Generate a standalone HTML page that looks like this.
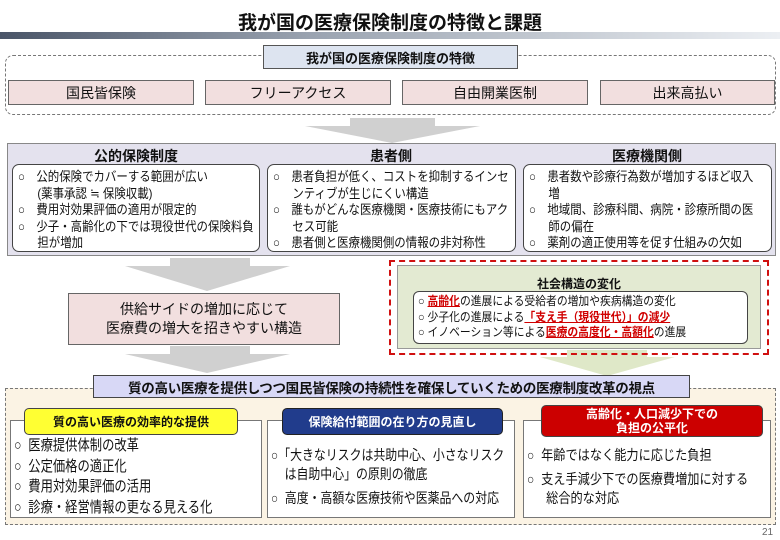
<!DOCTYPE html>
<html><head><meta charset="utf-8"><style>
*{margin:0;padding:0;box-sizing:border-box}
body{width:780px;height:540px;background:#fff;position:relative;overflow:hidden;font-family:"Liberation Sans","Noto Sans CJK JP",sans-serif;color:#111}
.a{position:absolute}
.c{display:flex;align-items:center;justify-content:center;text-align:center}
.pink{background:#f2dfdf;border:1px solid #666;font-size:14px}
.wb{background:#fff;border:1px solid #444;border-radius:7px}
.sx{transform:scaleX(0.88);transform-origin:0 0;font-size:13px;line-height:16.5px}
.li{padding-left:22px;text-indent:-22px}
.b{font-weight:bold}
.r{color:#d00000;font-weight:bold;text-decoration:underline}
</style></head><body>
<div class="a b" style="left:0;top:8px;width:780px;text-align:center;font-size:19px">我が国の医療保険制度の特徴と課題</div>
<div class="a" style="left:0;top:32px;width:780px;height:7px;background:linear-gradient(90deg,#4a5568,#9aa3b0 40%,#eceff3)"></div>

<div class="a" style="left:5px;top:55px;width:771px;height:60px;border:1px dashed #777;border-radius:8px"></div>
<div class="a c b" style="left:263px;top:45px;width:255px;height:24px;background:#dde4f0;border:1px solid #555;font-size:13px">我が国の医療保険制度の特徴</div>
<div class="a c pink" style="left:8px;top:80px;width:186px;height:25px">国民皆保険</div>
<div class="a c pink" style="left:205px;top:80px;width:186px;height:25px">フリーアクセス</div>
<div class="a c pink" style="left:402px;top:80px;width:186px;height:25px">自由開業医制</div>
<div class="a c pink" style="left:600px;top:80px;width:175px;height:25px">出来高払い</div>

<svg class="a" style="left:0;top:0" width="780" height="540">
<polygon points="350,118 435,118 435,126 480,126 392,143 305,126 350,126" fill="#d0d0d0"/>
<polygon points="170,258 250,258 250,266 290,266 207,291 125,266 170,266" fill="#d0d0d0"/>
<polygon points="170,346 250,346 250,354 290,354 207,373 125,354 170,354" fill="#d0d0d0"/>
<polygon points="567,350 647,350 647,357 675,357 607,376 540,357 567,357" fill="#dfe8c8"/>
</svg>

<div class="a" style="left:7px;top:143px;width:769px;height:113px;background:#e4e2ee;border:1px solid #888"></div>
<div class="a b" style="left:12px;top:146px;width:248px;text-align:center;font-size:14px">公的保険制度</div>
<div class="a b" style="left:267px;top:146px;width:248px;text-align:center;font-size:14px">患者側</div>
<div class="a b" style="left:523px;top:146px;width:248px;text-align:center;font-size:14px">医療機関側</div>
<div class="a wb" style="left:12px;top:164px;width:248px;height:88px"></div>
<div class="a wb" style="left:267px;top:164px;width:249px;height:88px"></div>
<div class="a wb" style="left:523px;top:164px;width:249px;height:88px"></div>
<div class="a sx" style="left:18px;top:169px;width:268px"><div class="li">○　公的保険でカバーする範囲が広い<br>(薬事承認 ≒ 保険収載)</div><div class="li">○　費用対効果評価の適用が限定的</div><div class="li">○　少子・高齢化の下では現役世代の保険料負担が増加</div></div>
<div class="a sx" style="left:273px;top:169px;width:272px"><div class="li">○　患者負担が低く、コストを抑制するインセンティブが生じにくい構造</div><div class="li">○　誰もがどんな医療機関・医療技術にもアクセス可能</div><div class="li">○　患者側と医療機関側の情報の非対称性</div></div>
<div class="a sx" style="left:529px;top:169px;width:258px"><div class="li">○　患者数や診療行為数が増加するほど収入増</div><div class="li">○　地域間、診療科間、病院・診療所間の医師の偏在</div><div class="li">○　薬剤の適正使用等を促す仕組みの欠如</div></div>

<div class="a c pink" style="left:68px;top:293px;width:272px;height:52px;line-height:19px">供給サイドの増加に応じて<br>医療費の増大を招きやすい構造</div>

<div class="a" style="left:389px;top:260px;width:380px;height:95px;border:2px dashed #d01010"></div>
<div class="a" style="left:397px;top:265px;width:364px;height:84px;background:#e3ead2;border:1px solid #999"></div>
<div class="a b" style="left:397px;top:275px;width:364px;text-align:center;font-size:12px">社会構造の変化</div>
<div class="a" style="left:413px;top:291px;width:335px;height:53px;background:#fff;border:1px solid #444;border-radius:6px"></div>
<div class="a" style="left:418px;top:294px;width:360px;font-size:12px;line-height:15.5px;transform:scaleX(0.9);transform-origin:0 0">
<div>○ <span class="r">高齢化</span>の進展による受給者の増加や疾病構造の変化</div>
<div>○ 少子化の進展による<span class="r">「支え手（現役世代）」の減少</span></div>
<div>○ イノベーション等による<span class="r">医療の高度化・高額化</span>の進展</div></div>

<div class="a" style="left:5px;top:388px;width:771px;height:137px;background:#fbf3e4;border:1px dashed #777"></div>
<div class="a c b" style="left:93px;top:375px;width:597px;height:23px;background:#d8d8f6;border:1px solid #444;font-size:13.5px;letter-spacing:-0.3px">質の高い医療を提供しつつ国民皆保険の持続性を確保していくための医療制度改革の視点</div>

<div class="a" style="left:10px;top:420px;width:252px;height:98px;background:#fff;border:1px solid #777"></div>
<div class="a" style="left:267px;top:420px;width:248px;height:98px;background:#fff;border:1px solid #777"></div>
<div class="a" style="left:523px;top:420px;width:248px;height:98px;background:#fff;border:1px solid #777"></div>
<div class="a c b" style="left:24px;top:408px;width:214px;height:27px;background:#ffff33;border:1px solid #444;border-radius:5px;font-size:12px">質の高い医療の効率的な提供</div>
<div class="a c b" style="left:282px;top:408px;width:221px;height:27px;background:#213c8c;color:#fff;border:1px solid #222;border-radius:5px;font-size:12px">保険給付範囲の在り方の見直し</div>
<div class="a c b" style="left:541px;top:405px;width:222px;height:32px;background:#cc0000;color:#fff;border:1px solid #444;border-radius:5px;font-size:12px;line-height:14px">高齢化・人口減少下での<br>負担の公平化</div>

<div class="a" style="left:14px;top:436px;width:300px;font-size:15px;line-height:20.5px;transform:scaleX(0.82);transform-origin:0 0">
<div>○&nbsp; 医療提供体制の改革</div><div>○&nbsp; 公定価格の適正化</div><div>○&nbsp; 費用対効果評価の活用</div><div>○&nbsp; 診療・経営情報の更なる見える化</div></div>
<div class="a" style="left:271px;top:446px;width:286px;font-size:14px;line-height:19px;transform:scaleX(0.85);transform-origin:0 0">
<div class="li" style="padding-left:16px;text-indent:-16px">○「大きなリスクは共助中心、小さなリスクは自助中心」の原則の徹底</div><div class="li" style="margin-top:5px">○&nbsp; 高度・高額な医療技術や医薬品への対応</div></div>
<div class="a" style="left:527px;top:446px;width:268px;font-size:14px;line-height:19px;transform:scaleX(0.87);transform-origin:0 0">
<div class="li">○&nbsp; 年齢ではなく能力に応じた負担</div><div class="li" style="margin-top:5px">○&nbsp; 支え手減少下での医療費増加に対する総合的な対応</div></div>
<div class="a" style="left:762px;top:527px;font-size:10px;color:#666">21</div>
</body></html>
